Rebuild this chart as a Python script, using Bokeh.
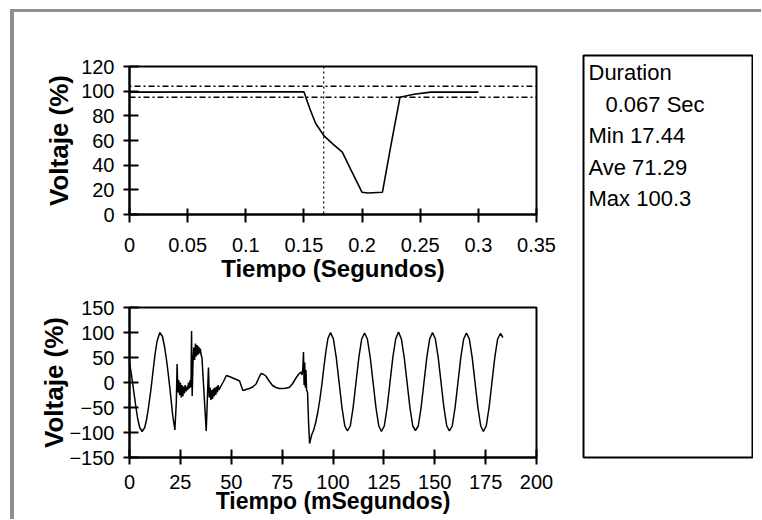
from bokeh.plotting import figure
from bokeh.layouts import row, column
from bokeh.models import Range1d, FixedTicker, Span, ColumnDataSource
from bokeh.core.properties import value
from bokeh.embed import file_html
from bokeh.resources import INLINE

# ---------------- data ----------------
# Top chart: RMS voltage (%) vs time (s)
rms_time_s = [0.0, 0.150, 0.155, 0.160, 0.1675, 0.175, 0.183, 0.190, 0.200, 0.205,
              0.2175, 0.225, 0.2326, 0.2446, 0.259, 0.300]
rms_voltage = [99.2, 99.5, 86.0, 74.0, 63.5, 57.0, 50.5, 37.0, 18.0, 17.44,
               18.0, 57.0, 95.0, 97.5, 99.2, 99.2]
rms_xticks = [0, 0.05, 0.1, 0.15, 0.2, 0.25, 0.3, 0.35]
rms_xtick_labels = ["0", "0.05", "0.1", "0.15", "0.2", "0.25", "0.3", "0.35"]
rms_yticks = [0, 20, 40, 60, 80, 100, 120]
limit_high = 104
limit_low = 95
cursor_time = 0.167

# Bottom chart: instantaneous voltage (%) vs time (ms)
wave_time_ms = [
    0, 1, 2, 3, 4, 5, 6.2, 7.5, 8.5, 9.5, 10.5, 11.5, 12.5, 13.5, 14.9, 16.2, 17.2, 18.2,
    19.2, 20.2, 21.2, 22.3, 23.0, 23.4, 23.8, 24.2, 24.6, 25.0, 25.4, 25.8, 26.2, 26.6,
    27.0, 27.4, 27.8, 28.2, 28.6, 29.0, 29.4, 29.8, 30.2, 30.5, 30.8, 31.2, 31.6, 32.0,
    32.4, 32.8, 33.2, 33.6, 34.0, 34.4, 34.8, 35.2, 35.6, 36.6, 37.7, 38.2, 38.8, 39.2,
    39.6, 40.0, 40.4, 40.8, 41.2, 41.6, 42.0, 42.4, 42.8, 43.2, 43.6, 44.0, 44.8, 46.2,
    47.6, 49.0, 50.8, 52.5, 54.1, 55.7, 57.3, 58.9, 60.5, 62.2, 63.4, 64.6, 66.0, 67.0,
    68.6, 70.3, 72.0, 73.6, 76.0, 78.5, 80.2, 81.8, 83.0, 84.2, 84.8, 85.2, 85.5, 85.8,
    86.1, 86.4, 86.7, 87.0, 87.5, 88.0, 88.5, 89.5, 90.5, 91.5, 92.5, 93.5, 94.5, 95.5,
    96.5, 97.5, 98.8, 100.2, 101.6, 103.0, 104.4, 105.8, 107.1, 108.5, 109.9, 111.3,
    112.7, 114.1, 115.5, 116.9, 118.3, 119.7, 121.1, 122.5, 123.8, 125.2, 126.6, 128.0,
    129.4, 130.8, 132.2, 133.6, 135.0, 136.4, 137.8, 139.2, 140.5, 141.9, 143.3, 144.7,
    146.1, 147.5, 148.9, 150.3, 151.7, 153.1, 154.5, 155.9, 157.2, 158.6, 160.0, 161.4,
    162.8, 164.2, 165.6, 167.0, 168.4, 169.8, 171.2, 172.6, 173.9, 175.3, 176.7, 178.1,
    179.5, 180.9, 182.3, 183.5]
wave_voltage = [
    40, 15, -15, -45, -72, -90, -98, -90, -72, -45, -15, 20, 55, 82, 100, 92, 72, 45,
    12, -25, -65, -95, -40, 37, -20, 5, -25, 0, -30, -5, -28, -8,
    -22, -5, -18, -8, -15, 0, -12, 5, -10, 103, -27, 40, 70, 45,
    78, 52, 75, 55, 72, 58, 68, 55, 50, -20, -97, -40, 30, -30,
    -10, -35, -15, -33, -12, -28, -10, -25, -8, -20, -5, -15, -8, 2,
    14, 12, 9, 6, 3, -16, -14, -12, -9, -3, 8, 18, 16, 13,
    3, -6, -10, -12, -12, -10, -2, 9, 16, 21, 15, 30, 61, -5,
    40, -10, 25, -15, -20, -80, -122, -105, -95, -80, -60, -35, -5, 30,
    62, 88, 100, 87, 50, 0, -50, -87, -97, -87, -50, 0,
    50, 87, 99, 87, 50, 0, -50, -87, -98, -87, -50, 0,
    50, 87, 101, 87, 50, 0, -50, -87, -96, -87, -50, 0,
    50, 87, 100, 87, 50, 0, -50, -87, -97, -87, -50, 0,
    50, 87, 99, 87, 50, 0, -50, -87, -98, -87, -50, 0,
    50, 87, 98, 90]
wave_xticks = [0, 25, 50, 75, 100, 125, 150, 175, 200]
wave_yticks = [-150, -100, -50, 0, 50, 100, 150]

# Summary box
duration_s = 0.067
v_min = 17.44
v_ave = 71.29
v_max = 100.3

TICK_FONT = "Liberation Sans"
LABEL_FONT = "Liberation Sans"


def style(p, xtick_out, xtick_in, xstandoff, ylabel_standoff):
    p.background_fill_color = "white"
    p.border_fill_color = "white"
    p.outline_line_color = "black"
    p.outline_line_width = 2
    p.grid.visible = False
    for ax in p.axis:
        ax.axis_line_width = 2
        ax.axis_line_color = "black"
        ax.major_tick_line_width = 2
        ax.major_tick_line_color = "black"
        ax.minor_tick_line_color = None
        ax.major_label_text_font = TICK_FONT
        ax.major_label_text_font_size = "20px"
        ax.major_label_text_color = "black"
        ax.axis_label_text_font = LABEL_FONT
        ax.axis_label_text_font_style = "bold"
        ax.axis_label_text_color = "black"
    p.xaxis.axis_label_text_font_size = "24px"
    p.yaxis.axis_label_text_font_size = "26px"
    p.xaxis.major_tick_out = xtick_out
    p.xaxis.major_tick_in = xtick_in
    p.xaxis.major_label_standoff = xstandoff
    p.yaxis.major_tick_out = 6
    p.yaxis.major_tick_in = 9
    p.yaxis.major_label_standoff = 9
    p.yaxis.axis_label_standoff = ylabel_standoff


# ---------------- top chart ----------------
top = figure(width=546, height=276, x_range=Range1d(0, 0.35), y_range=Range1d(0, 120),
             output_backend="svg", toolbar_location=None,
             min_border_left=114, min_border_right=24, min_border_top=54, min_border_bottom=74)
style(top, 8, 6, 15, 4)
top.xaxis.ticker = FixedTicker(ticks=rms_xticks)
top.xaxis.major_label_overrides = {t: l for t, l in zip(rms_xticks, rms_xtick_labels)}
top.yaxis.ticker = FixedTicker(ticks=rms_yticks)
top.xaxis.axis_label = "Tiempo (Segundos)"
top.xaxis.axis_label_standoff = 0
top.yaxis.axis_label = "Voltaje (%)"
top.add_layout(Span(location=limit_high, dimension="width", line_color="black",
                    line_width=1.5, line_dash="2 3 6 3"))
top.add_layout(Span(location=limit_low, dimension="width", line_color="black",
                    line_width=1.5, line_dash="6 3 2 3"))
top.add_layout(Span(location=cursor_time, dimension="height", line_color="black",
                    line_width=1.2, line_dash="2 3"))
top.line(rms_time_s, rms_voltage, line_color="black", line_width=1.6)

# ---------------- bottom chart ----------------
bot = figure(width=546, height=231, x_range=Range1d(0, 200), y_range=Range1d(-150, 150),
             output_backend="svg", toolbar_location=None,
             min_border_left=115, min_border_right=24, min_border_top=19, min_border_bottom=62)
style(bot, 7, 8, 10, -3)
bot.xaxis.axis_label_text_font_size = "23px"
bot.xaxis.ticker = FixedTicker(ticks=wave_xticks)
bot.yaxis.ticker = FixedTicker(ticks=wave_yticks)
bot.yaxis.axis_label = "Voltaje (%)"
bot.xaxis.axis_label = "Tiempo (mSegundos)"
bot.xaxis.axis_label_standoff = -4
bot.line(wave_time_ms, wave_voltage, line_color="black", line_width=1.5)

# ---------------- summary box ----------------
info = figure(width=193, height=499, x_range=Range1d(0, 169), y_range=Range1d(402, 0),
              x_axis_type=None, y_axis_type=None,
              output_backend="svg", toolbar_location=None,
              min_border_left=23, min_border_right=1, min_border_top=43, min_border_bottom=54)
info.grid.visible = False
info.outline_line_color = "black"
info.outline_line_width = 2
info.background_fill_color = "white"
info.border_fill_color = "white"
info_lines = ["Duration", f"{duration_s} Sec", f"Min {v_min}", f"Ave {v_ave}", f"Max {v_max}"]
info_src = ColumnDataSource(dict(x=[5, 22, 5, 5, 5], y=[17, 49, 80, 112, 143], text=info_lines))
info.text(x="x", y="y", text="text", source=info_src, text_font=value(TICK_FONT),
          text_font_size="22px", text_baseline="middle", text_align="left", text_color="black")

layout = row(column(top, bot), info,
             styles={"border-top": "3px solid #8e8e8e", "border-left": "4px solid #8e8e8e",
                     "margin-top": "9px", "margin-left": "10px", "padding-right": "8px"})

open("out.html", "w").write(file_html(layout, INLINE))
